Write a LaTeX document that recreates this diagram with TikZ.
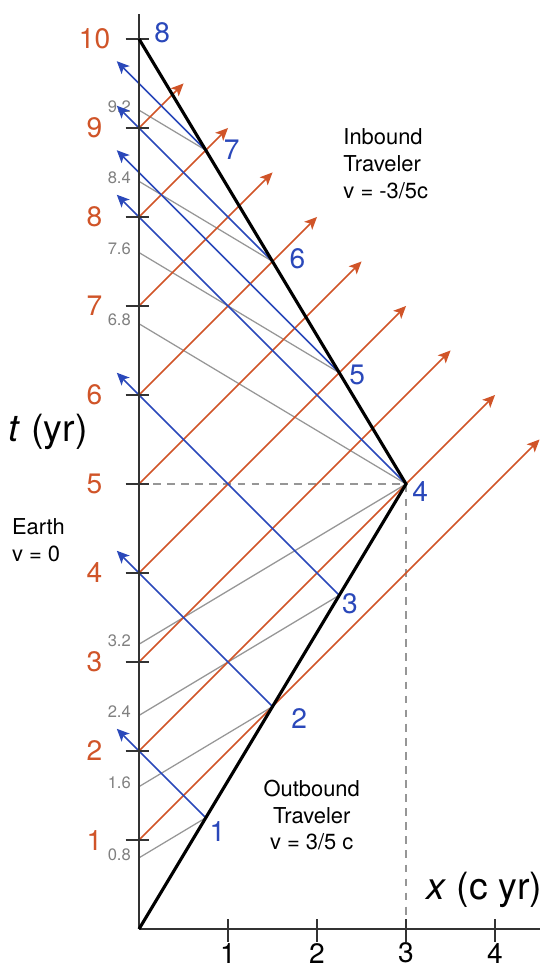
\documentclass[tikz,border=0pt]{standalone}
\usepackage{fontspec}
\setmainfont{TeX Gyre Heros}
\usetikzlibrary{arrows.meta,calc}

\definecolor{earthred}{RGB}{208,84,40}
\definecolor{travblue}{RGB}{42,72,186}
\definecolor{simgray}{RGB}{150,150,150}

\begin{document}
\begin{tikzpicture}[
    axis/.style={line width=0.65pt, black!80},
    world/.style={line width=1pt, black},
    redsig/.style={earthred, line width=0.5pt, -{Stealth[length=4pt,width=3.6pt,inset=1pt]}},
    bluesig/.style={travblue, line width=0.5pt, -{Stealth[length=4pt,width=3.6pt,inset=1pt]}},
    simline/.style={simgray, line width=0.4pt},
    guide/.style={simgray, line width=0.4pt, dash pattern=on 2.5pt off 2pt},
    redlbl/.style={earthred, font=\fontsize{9}{10}\selectfont},
    bluelbl/.style={travblue, font=\fontsize{9}{10}\selectfont},
    graylbl/.style={gray, font=\fontsize{5.3}{6}\selectfont, anchor=east, inner sep=1pt},
    txt/.style={font=\fontsize{7}{8.6}\selectfont, inner sep=0pt}
]
    \useasboundingbox (-1.562,-0.494) rectangle (4.596,10.438);

    % Events: earth clock and traveler clock
    \coordinate (P0) at (0,0);
    \foreach \k in {1,...,10} \coordinate (E\k) at (0,\k);
    \foreach \k in {1,...,4} \coordinate (P\k) at ({0.75*\k},{1.25*\k});
    \foreach \k in {5,...,8} \coordinate (P\k) at ({3-0.75*(\k-4)},{5+1.25*(\k-4)});

    % Lines of simultaneity (drawn first)
    \foreach \k/\s [count=\i] in {1/0.8,2/1.6,3/2.4,4/3.2,4/6.8,5/7.6,6/8.4,7/9.2} {
        \coordinate (S\i) at (0,\s);
        \draw[simline] (S\i) -- (P\k);
        \node[graylbl] (SL\i) at (-0.05,\s+0.04) {\s};
    }

    % Dashed guides to the turnaround
    \coordinate (X3) at (3,0);
    \draw[guide] (E5) -- (P4) -- (X3);

    % Signals sent from Earth
    \foreach \k in {1,...,9} {
        \coordinate (R\k) at ({(10-\k)/2},{(10+\k)/2});
        \draw[redsig] (E\k) -- (R\k);
    }

    % Signals sent from the traveler
    \foreach \k/\d in {1/1,2/1.75,3/2.5,4/3.25,5/2.5,6/1.75,7/1} {
        \path (P\k) ++(-\d,\d) coordinate (B\k);
        \draw[bluesig] (P\k) -- (B\k);
    }

    % Axes
    \coordinate (Ttop) at (0,10.28);
    \coordinate (Xend) at (4.5,0);
    \draw[axis] (P0) -- (Ttop);
    \draw[axis] (P0) -- (Xend);
    \foreach \k in {1,...,10} {
        \draw[axis] (-0.15,\k) -- (0.11,\k);
        \node[redlbl] (TL\k) at (-0.5,\k) {\k};
    }
    \foreach \k in {1,...,4} {
        \draw[axis] (\k,0.11) -- (\k,-0.15);
        \node[font=\fontsize{9}{10}\selectfont] (XL\k) at (\k,-0.27) {\k};
    }

    % Traveler world line
    \draw[world] (P0) -- (P4) -- (P8);

    % Traveler clock labels
    \foreach \k/\dx/\dy in {1/0.13/-0.16,2/0.3/-0.13,3/0.12/-0.09,4/0.16/-0.09,
                            5/0.2/-0.03,6/0.28/0.03,7/0.29/0,8/0.26/0.07} {
        \node[bluelbl] (PL\k) at ($(P\k)+(\dx,\dy)$) {\k};
    }

    % Axis titles and notes
    \node[font=\fontsize{12}{14}\selectfont] (tlab) at (-1.02,5.58) {\textit{t} (yr)};
    \node[font=\fontsize{12}{14}\selectfont] (xlab) at (3.88,0.44) {\textit{x} (c yr)};
    \node[txt, align=left] (earth) at (-1.13,4.37) {Earth\\v = 0};
    \node[txt, align=left, anchor=west] (inb) at (2.29,8.6) {Inbound\\Traveler\\v = -3/5c};
    \node[txt, align=center] (outb) at (1.94,1.28) {Outbound\\Traveler\\v = 3/5 c};
\end{tikzpicture}
\end{document}
